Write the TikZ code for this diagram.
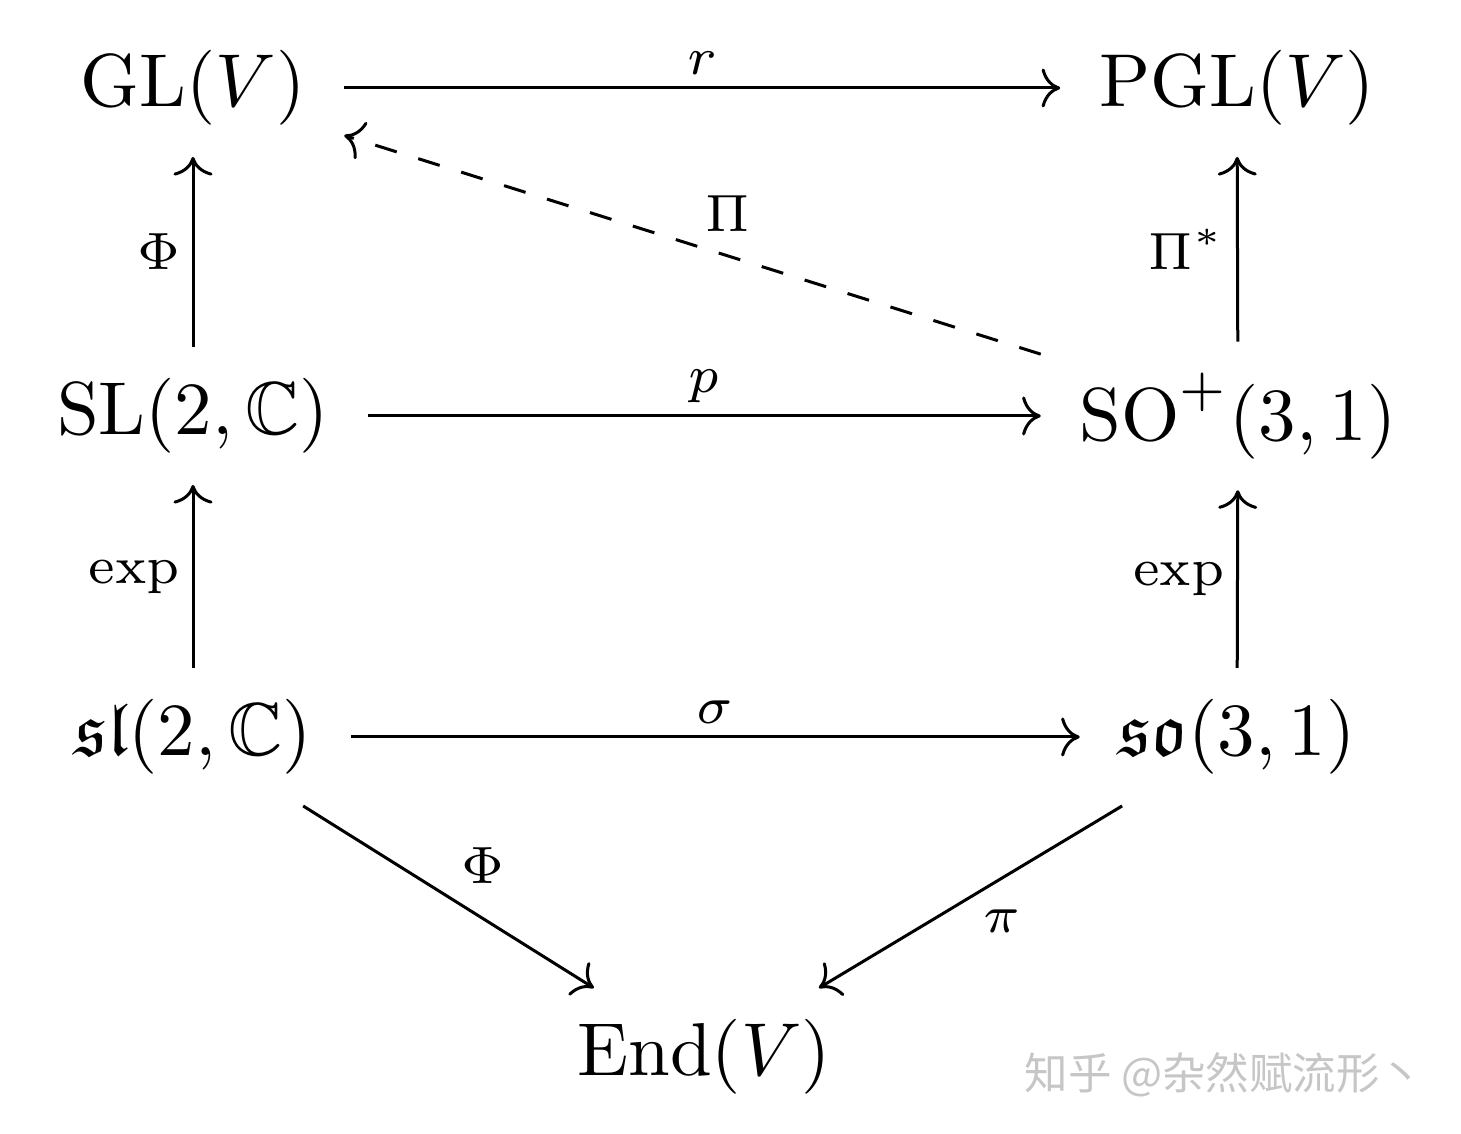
\documentclass[tikz,border=0pt]{standalone}
\usepackage{amssymb}
\usepackage{fontspec}
\newfontfamily\cjk{Noto Sans CJK SC}
\usetikzlibrary{arrows.meta}
\begin{document}
\begin{tikzpicture}[x=0.133333pt,y=-0.133333pt,
  obj/.style={inner xsep=5pt, inner ysep=4pt},
  arr/.style={-{Computer Modern Rightarrow}, line width=0.4pt},
  lab/.style={font=\scriptsize, inner sep=1.55pt}]
\useasboundingbox (0,0) rectangle (1461,1134);
\node[obj] (GL)  at (193,88)   {$\mathrm{GL}(V)$};
\node[obj] (PGL) at (1237,88)  {$\mathrm{PGL}(V)$};
\node[obj] (SL)  at (193,416)  {$\mathrm{SL}(2,\mathbb{C})$};
\node[obj] (SO)  at (1238,416) {$\mathrm{SO}^+(3,1)$};
\node[obj] (sl)  at (193,737)  {$\mathfrak{sl}(2,\mathbb{C})$};
\node[obj] (so)  at (1237,737) {$\mathfrak{so}(3,1)$};
\node[obj] (End) at (704,1057) {$\mathrm{End}(V)$};
\draw[arr] (GL) -- node[lab, above] (lr) {$r$} (PGL);
\draw[arr, dashed] (SO) -- node[lab, above right] (lPi) {$\Pi$} (GL);
\draw[arr] (SL) -- node[lab, left] (lPhiA) {$\Phi$} (GL);
\draw[arr] (SO) -- node[lab, left] (lPis) {$\Pi^*$} (PGL);
\draw[arr] (SL) -- node[lab, above] (lp) {$p$} (SO);
\draw[arr] (sl) -- node[lab, left] (lexpA) {$\exp$} (SL);
\draw[arr] (so) -- node[lab, left] (lexpB) {$\exp$} (SO);
\draw[arr] (sl) -- node[lab, above] (ls) {$\sigma$} (so);
\draw[arr] (sl) -- node[lab, above right] (lPhiB) {$\Phi$} (End);
\draw[arr] (so) -- node[lab, below right] (lpi) {$\pi$} (End);
\node[font=\fontsize{5.8}{7}\selectfont\cjk, text=gray!45] (wm) at (1224,1075) {知乎 @杂然赋流形丶};
\end{tikzpicture}
\end{document}
